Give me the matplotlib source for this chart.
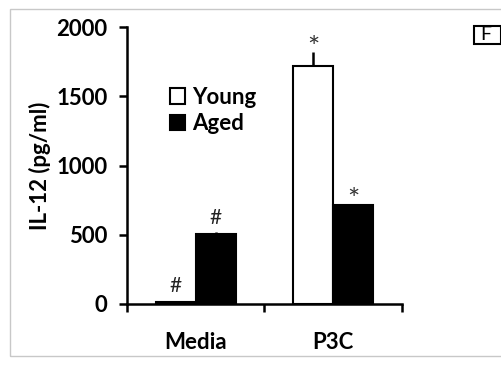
import matplotlib
matplotlib.use("Agg")
import matplotlib.pyplot as plt
import numpy as np
from matplotlib.patches import Rectangle

# data
groups = ["Media", "P3C"]
young = [18, 1715]
young_err = [4, 105]
aged = [505, 715]
aged_err = [12, 6]
young_marks = ["#", "*"]
aged_marks = ["#", "*"]

plt.rcParams['font.family'] = ['Lato', 'DejaVu Sans']
FS = 16

fig = plt.figure(figsize=(5.02, 3.66), dpi=100)
ax = fig.add_axes([127/502, 1 - 304/366, 275/502, 277/366])

x = np.arange(len(groups)) + 0.5
w = 0.29
b1 = ax.bar(x - w/2, young, w, color='white', edgecolor='black', linewidth=1.5,
            label='Young', zorder=2)
b2 = ax.bar(x + w/2, aged, w, color='black', edgecolor='black', linewidth=1.5,
            label='Aged', zorder=2)
ax.errorbar(x - w/2, young, yerr=[[0]*2, young_err], fmt='none', ecolor='black',
            elinewidth=1.8, capsize=0, zorder=3)
ax.errorbar(x + w/2, aged, yerr=[[0]*2, aged_err], fmt='none', ecolor='black',
            elinewidth=1.8, capsize=0, zorder=3)

def mark(xi, top, m):
    # star glyph sits high in its box, so offset it less than the hash
    if m == "*":
        ax.text(xi, top + 20, m, ha='center', va='center', fontsize=21, color='#333333')
    else:
        ax.text(xi, top + 105, m, ha='center', va='center', fontsize=15, color='#222222')

for xi, v, e, m in zip(x - w/2, young, young_err, young_marks):
    mark(xi, v + e, m)
for xi, v, e, m in zip(x + w/2, aged, aged_err, aged_marks):
    mark(xi, v + e, m)

ax.set_xlim(0, 2)
ax.set_ylim(0, 2000)
ax.set_yticks([0, 500, 1000, 1500, 2000])
ax.tick_params(axis='y', direction='out', length=6, width=1.8, labelsize=FS, pad=8)
for lbl in ax.get_yticklabels():
    lbl.set_fontweight('bold')

ax.set_xticks([0, 1, 2])
ax.set_xticklabels([])
ax.tick_params(axis='x', which='major', direction='out', length=6, width=1.8)
ax.set_xticks(x, minor=True)
ax.set_xticklabels(groups, minor=True, fontsize=FS, fontweight='bold')
ax.tick_params(axis='x', which='minor', length=0, pad=20)

for s in ['top', 'right']:
    ax.spines[s].set_visible(False)
for s in ['left', 'bottom']:
    ax.spines[s].set_linewidth(1.8)

ax.set_ylabel("IL-12 (pg/ml)", fontsize=FS, fontweight='bold', labelpad=4)

leg = ax.legend(handles=[b1, b2], loc='upper left', bbox_to_anchor=(0.155, 0.785),
                frameon=False, handlelength=0.7, handleheight=0.7,
                handletextpad=0.3, labelspacing=0.25, borderaxespad=0, borderpad=0,
                prop={'size': FS, 'weight': 'bold'})

# outer frame and panel letter
fig.patches.append(Rectangle((10/502, 10/366), 500/502, 347/366, transform=fig.transFigure,
                             fill=False, edgecolor='#c8c8c8', linewidth=1))
fig.patches.append(Rectangle((474/502, 1 - 44/366), 27/502, 18/366, transform=fig.transFigure,
                             fill=False, edgecolor='black', linewidth=1.5))
fig.text(486/502, 1 - 35/366, "F", ha='center', va='center', fontsize=14)

fig.savefig("out.png", dpi=100)
